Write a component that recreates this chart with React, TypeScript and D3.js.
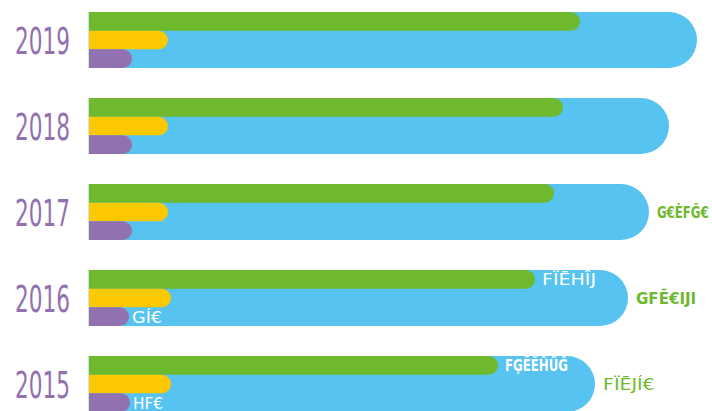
import React from "react";
import * as d3 from "d3";

const years = ["2019", "2018", "2017", "2016", "2015"];
const totalValues = [609, 581, 561, 540, 507];
const greenValues = [492, 475, 466, 447, 410];
const yellowValues = [80, 80, 80, 83, 83];
const purpleValues = [44, 44, 44, 41, 42];
const outsideLabels = ["", "", "G€ĖFĜ€", "GFĒ€IJI", "FÏĒJÍ€"];
const greenLabels = ["", "", "", "FÏĒHÎJ", "FĢĒĚĤŰĜ"];
const purpleLabels = ["", "", "", "GÍ€", "HF€"];

const W = 712;
const H = 411;
const BLUE = "#56C3F1";
const GREEN = "#6EB92E";
const YELLOW = "#FCC800";
const PURPLE = "#9271B0";
const FONT = "'Liberation Sans Narrow', 'DejaVu Sans Condensed', 'Roboto', sans-serif";

function roundEndBar(x0: number, x1: number, y: number, h: number) {
  const r = h / 2;
  const xe = Math.max(x0, x1 - r);
  const p = d3.path();
  p.moveTo(x0, y);
  p.lineTo(xe, y);
  p.arc(xe, y + r, r, -Math.PI / 2, Math.PI / 2, false);
  p.lineTo(x0, y + h);
  p.closePath();
  return p.toString();
}

export default function App() {
  const x = d3.scaleLinear().domain([0, 620]).range([88, 708]);
  const y = d3.scaleBand<string>().domain(years).range([12, 412]).paddingInner(30 / 86).paddingOuter(0);
  const sub = d3.scaleBand<string>().domain(["g", "y", "p"]).range([0, y.bandwidth()]);
  const sh = sub.bandwidth();

  return (
    <svg width={W} height={H} style={{ position: "absolute", left: 0, top: 0 }}>
      {years.map((yr, i) => {
        const y0 = y(yr)!;
        const bw = y.bandwidth();
        const cy = y0 + bw / 2;
        const gy = y0 + sub("g")!;
        const yy = y0 + sub("y")!;
        const py = y0 + sub("p")!;
        return (
          <g key={yr}>
            <text x={70} y={cy + 13.5} textAnchor="end" fill={PURPLE} fontFamily={FONT} fontSize={37} textLength={55} lengthAdjust="spacingAndGlyphs">
              {yr}
            </text>
            <path d={roundEndBar(x(0), x(totalValues[i]), y0, bw)} fill={BLUE} />
            <path d={roundEndBar(x(0), x(greenValues[i]), gy, sh)} fill={GREEN} />
            <path d={roundEndBar(x(0), x(yellowValues[i]), yy, sh)} fill={YELLOW} />
            <path d={roundEndBar(x(0), x(purpleValues[i]), py, sh)} fill={PURPLE} />
            <line x1={x(0) + 0.5} x2={x(0) + 0.5} y1={y0} y2={y0 + bw} stroke="#cfe6dd" strokeWidth={1} />
            {greenLabels[i] && (
              <text x={x(greenValues[i]) + 7} y={gy + sh / 2 + 6} fill="#ffffff" fontFamily={FONT} fontSize={16}
                fontWeight={i === 4 ? 600 : 400}
                textLength={greenLabels[i].length * 9} lengthAdjust="spacingAndGlyphs">
                {greenLabels[i]}
              </text>
            )}
            {purpleLabels[i] && (
              <text x={x(purpleValues[i]) + 3} y={py + sh / 2 + 6} fill="#ffffff" fontFamily={FONT} fontSize={16}
                textLength={purpleLabels[i].length * 10} lengthAdjust="spacingAndGlyphs">
                {purpleLabels[i]}
              </text>
            )}
            {outsideLabels[i] && (
              <text x={x(totalValues[i]) + 8} y={cy + 6} fill={GREEN} fontFamily={FONT} fontSize={16}
                fontWeight={i === 4 ? 400 : 600}
                textLength={outsideLabels[i].length * 8.6} lengthAdjust="spacingAndGlyphs">
                {outsideLabels[i]}
              </text>
            )}
          </g>
        );
      })}
    </svg>
  );
}
